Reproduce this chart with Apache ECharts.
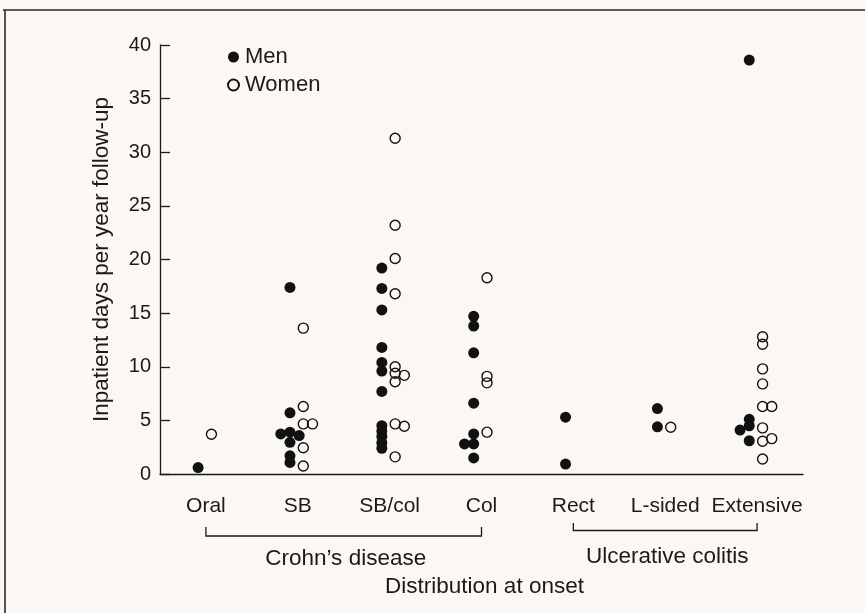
<!DOCTYPE html>
<html>
<head>
<meta charset="utf-8">
<script src="https://cdn.jsdelivr.net/npm/echarts@6/dist/echarts.min.js"></script>
<style>
  html, body { margin: 0; padding: 0; background: #fbf8f3; }
  #chart { width: 865px; height: 613px; }
</style>
</head>
<body>
<div id="chart"></div>
<script>
var categories = ['Oral', 'SB', 'SB/col', 'Col', 'Rect', 'L-sided', 'Extensive'];
var yTicks = [0, 5, 10, 15, 20, 25, 30, 35, 40];

// inpatient days per year follow-up, one list per category
var menDays = [
    [0.6],
    [17.4, 5.7, 3.9, 3.74, 3.58, 2.95, 1.7, 1.08],
    [19.2, 17.3, 15.3, 11.8, 10.4, 9.6, 7.7, 4.5, 4.0, 3.5, 2.9, 2.4],
    [14.7, 13.8, 11.3, 6.6, 3.74, 2.8, 2.8, 1.5],
    [5.3, 0.93],
    [6.1, 4.4],
    [38.6, 5.1, 4.5, 4.1, 3.1]
];
var womenDays = [
    [3.7],
    [13.6, 6.3, 4.67, 4.67, 2.45, 0.75],
    [31.3, 23.2, 20.1, 16.8, 10.0, 9.4, 9.2, 8.6, 4.67, 4.45, 1.6],
    [18.3, 9.1, 8.5, 3.9],
    [],
    [4.36],
    [12.8, 12.1, 9.8, 8.4, 6.3, 6.3, 4.3, 3.05, 3.3, 1.4]
];

var groups = [
    {name: 'Crohn\u2019s disease', from: 0, to: 3},
    {name: 'Ulcerative colitis', from: 4, to: 6}
];

var FONT = '"Liberation Sans", Arial, Helvetica, sans-serif';
var INK = '#1a1a1a';

// small dot-plot spreading: men sit left of the tick, women right,
// dots that would sit on top of each other are pushed one column aside
var toPoints = function (lists, base, dir) {
    var out = [];
    lists.forEach(function (vals, i) {
        var placed = [];
        vals.forEach(function (v) {
            var slots = [0, dir, -dir, 2 * dir];
            var slot = 0;
            for (var k = 0; k < slots.length; k++) {
                var hit = placed.some(function (p) {
                    return p.slot === slots[k] && Math.abs(p.v - v) < 0.45;
                });
                if (!hit) { slot = slots[k]; break; }
            }
            placed.push({v: v, slot: slot});
            out.push([i + base + slot * 0.1, v]);
        });
    });
    return out;
};

var chart = echarts.init(document.getElementById('chart'));

var option = {
    backgroundColor: '#fbf8f3',
    animation: false,
    textStyle: {fontFamily: FONT, color: INK},
    grid: {left: 160, right: 62, top: 45, bottom: 139},
    legend: {
        data: ['Men', 'Women'],
        orient: 'vertical',
        left: 227,
        top: 46,
        itemWidth: 11,
        itemHeight: 11,
        itemGap: 6,
        padding: 0,
        textStyle: {fontFamily: FONT, fontSize: 22, color: INK, padding: [0, 0, 0, 1]}
    },
    xAxis: [
        {
            type: 'category',
            data: categories,
            boundaryGap: true,
            axisLine: {lineStyle: {color: INK, width: 1.3}},
            axisTick: {alignWithLabel: true, length: 14, lineStyle: {color: INK, width: 1.3}},
            axisLabel: {fontFamily: FONT, fontSize: 21, color: INK, margin: 22, interval: 0},
            splitLine: {show: false}
        },
        {
            type: 'value',
            min: -0.5,
            max: 6.5,
            show: false
        }
    ],
    yAxis: {
        type: 'value',
        min: yTicks[0],
        max: yTicks[yTicks.length - 1],
        interval: yTicks[1] - yTicks[0],
        name: 'Inpatient days per year follow-up',
        nameLocation: 'middle',
        nameGap: 47,
        nameTextStyle: {fontFamily: FONT, fontSize: 22.5, color: INK},
        axisLine: {show: true, onZero: false, lineStyle: {color: INK, width: 1.3}},
        axisTick: {show: true, inside: true, length: 10, lineStyle: {color: INK, width: 1.3}},
        axisLabel: {fontFamily: FONT, fontSize: 20, color: INK, margin: 9},
        splitLine: {show: false}
    },
    series: [
        {
            name: 'Men',
            type: 'scatter',
            xAxisIndex: 1,
            symbol: 'circle',
            symbolSize: 11,
            itemStyle: {color: '#111', opacity: 1},
            data: toPoints(menDays, -0.085, -1)
        },
        {
            name: 'Women',
            type: 'scatter',
            xAxisIndex: 1,
            symbol: 'circle',
            symbolSize: 10,
            itemStyle: {color: 'rgba(0,0,0,0)', borderColor: '#111', borderWidth: 1.4, opacity: 1},
            data: toPoints(womenDays, 0.06, 1)
        }
    ]
};
chart.setOption(option);

// brackets under the axis labels, placed from the category positions
var px = function (i) { return chart.convertToPixel({xAxisIndex: 1}, i); };
var bracketY = [536, 530.5];
var bracketTop = [527, 523];
var labelY = [559, 557];
var graphics = [
    {type: 'line', shape: {x1: 3, y1: 10, x2: 865, y2: 10}, style: {stroke: '#2a2a2a', lineWidth: 1.6}},
    {type: 'line', shape: {x1: 5, y1: 10, x2: 5, y2: 613}, style: {stroke: '#2a2a2a', lineWidth: 1.6}}
];
groups.forEach(function (g, k) {
    var x1 = px(g.from), x2 = px(g.to);
    graphics.push({
        type: 'polyline',
        shape: {points: [[x1, bracketTop[k]], [x1, bracketY[k]], [x2, bracketY[k]], [x2, bracketTop[k]]]},
        style: {stroke: INK, lineWidth: 1.3, fill: null}
    });
    graphics.push({
        type: 'text',
        x: (x1 + x2) / 2 + 2,
        y: labelY[k],
        style: {text: g.name, font: '22.5px ' + FONT, fill: INK, align: 'center', verticalAlign: 'middle'}
    });
});
graphics.push({
    type: 'text',
    x: (px(0) + px(categories.length - 1)) / 2 + 3,
    y: 587,
    style: {text: 'Distribution at onset', font: '22.5px ' + FONT, fill: INK, align: 'center', verticalAlign: 'middle'}
});
chart.setOption({graphic: graphics});
</script>
</body>
</html>
